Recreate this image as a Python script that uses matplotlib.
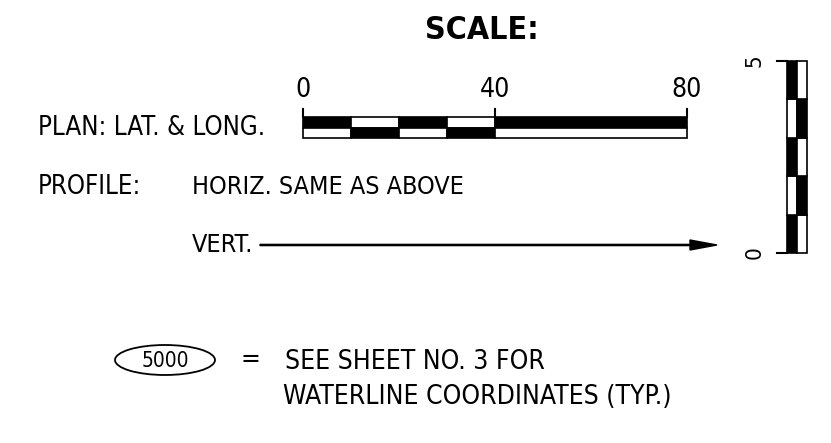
import matplotlib.pyplot as plt
from matplotlib.patches import Rectangle, Ellipse

# plan (horizontal) scale: tick labels and checker segments
plan_ticks = [0, 40, 80]
plan_edges = [0, 10, 20, 30, 40, 80]
plan_top_black = [1, 0, 1, 0, 1]

# vertical scale
vert_ticks = [0, 5]
vert_edges = [0, 1, 2, 3, 4, 5]
vert_left_black = [1, 0, 1, 0, 1]

plt.rcParams['font.family'] = ['DejaVu Sans']
plt.rcParams['font.stretch'] = 'condensed'


def hx(u):
    # plan scale units -> pixels
    return 303 + u * (687 - 303) / 80.0


def vy(u):
    # vertical scale units -> pixels
    return 253 - u * (253 - 61) / 5.0


fig = plt.figure(figsize=(8.31, 4.43), dpi=100)
ax = fig.add_axes([0, 0, 1, 1])
ax.set_xlim(0, 831)
ax.set_ylim(443, 0)
ax.axis('off')

ax.text(482, 30, 'SCALE:', ha='center', va='center', fontsize=23, fontweight='bold')

# horizontal bar
top, mid, bot = 117, 128, 138
for (a, b), blk in zip(zip(plan_edges[:-1], plan_edges[1:]), plan_top_black):
    ax.add_patch(Rectangle((hx(a), top), hx(b) - hx(a), mid - top,
                           facecolor='black' if blk else 'white', edgecolor='black', lw=1.2))
    ax.add_patch(Rectangle((hx(a), mid), hx(b) - hx(a), bot - mid,
                           facecolor='white' if blk else 'black', edgecolor='black', lw=1.2))
for t in plan_ticks:
    ax.plot([hx(t), hx(t)], [109, top], color='black', lw=1.5)
    ax.text(hx(t), 90, str(t), ha='center', va='center', fontsize=19)

# vertical bar
xl, xm, xr = 787, 797, 807
for (a, b), blk in zip(zip(vert_edges[:-1], vert_edges[1:]), vert_left_black):
    ax.add_patch(Rectangle((xl, vy(b)), xm - xl, vy(a) - vy(b),
                           facecolor='black' if blk else 'white', edgecolor='black', lw=1.2))
    ax.add_patch(Rectangle((xm, vy(b)), xr - xm, vy(a) - vy(b),
                           facecolor='white' if blk else 'black', edgecolor='black', lw=1.2))
for t in vert_ticks:
    ax.plot([777, xl], [vy(t), vy(t)], color='black', lw=1.5)
    ax.text(755, vy(t), str(t), ha='center', va='center', fontsize=16, rotation=90)

# labels
ax.text(38, 128, 'PLAN: LAT. & LONG.', ha='left', va='center', fontsize=18.5)
ax.text(38, 187, 'PROFILE:', ha='left', va='center', fontsize=18.5)
ax.text(192, 187, 'HORIZ. SAME AS ABOVE', ha='left', va='center', fontsize=18)
ax.text(192, 245, 'VERT.', ha='left', va='center', fontsize=18)
ax.arrow(260, 245, 457, 0, width=1.2, head_width=10, head_length=27,
         length_includes_head=True, color='black')

# note
ax.add_patch(Ellipse((165, 360), 100, 30, fill=False, edgecolor='black', lw=1.3))
ax.text(165, 361, '5000', ha='center', va='center', fontsize=15)
ax.text(250, 360, '=', ha='center', va='center', fontsize=19)
ax.text(285, 362, 'SEE SHEET NO. 3 FOR', ha='left', va='center', fontsize=19)
ax.text(283, 397, 'WATERLINE COORDINATES (TYP.)', ha='left', va='center', fontsize=19)

fig.savefig('out.png', dpi=100)
